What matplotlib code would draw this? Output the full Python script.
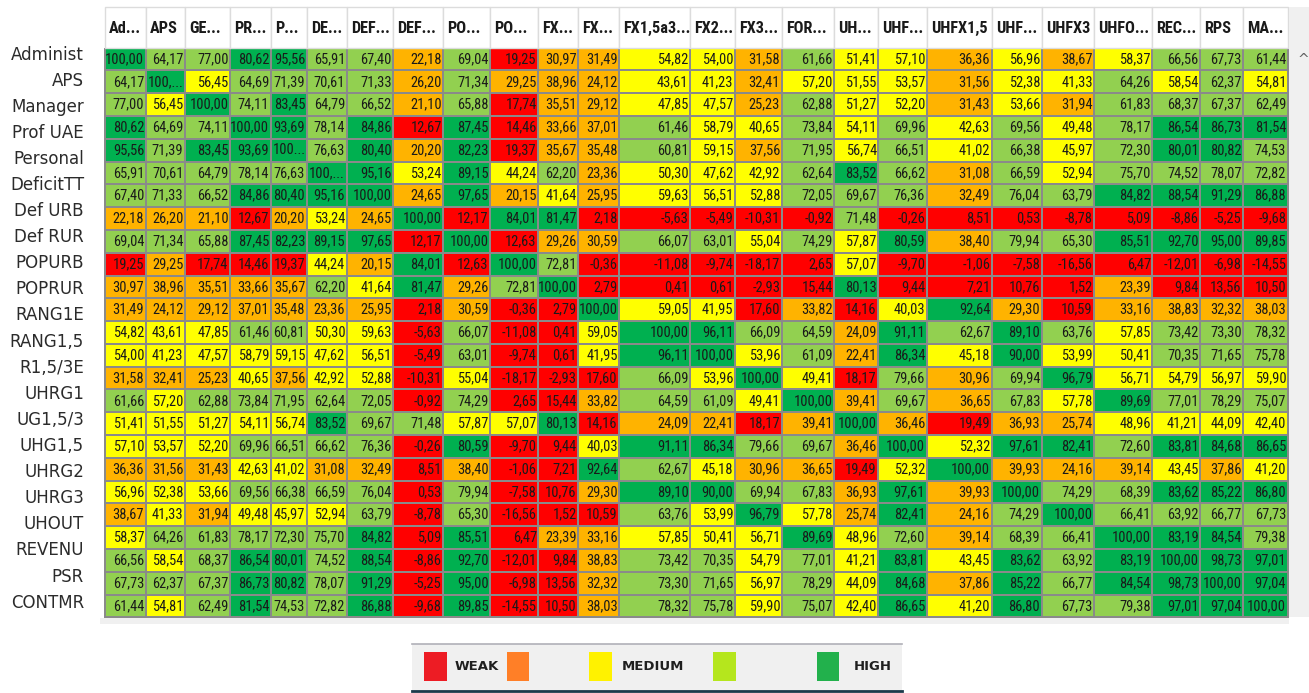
import numpy as np
import matplotlib.pyplot as plt
from matplotlib import font_manager as fm
from matplotlib.colors import ListedColormap, BoundaryNorm
from matplotlib.patches import Rectangle

colNames = ['Ad...', 'APS', 'GE...', 'PR...', 'P...', 'DE...', 'DEF...', 'DEF...', 'PO...', 'PO...',
            'FX...', 'FX...', 'FX1,5a3...', 'FX2...', 'FX3...', 'FOR...', 'UH...', 'UHF...', 'UHFX1,5',
            'UHF...', 'UHFX3', 'UHFO...', 'REC...', 'RPS', 'MA...']
rowNames = ['Administ', 'APS', 'Manager', 'Prof UAE', 'Personal', 'DeficitTT', 'Def URB', 'Def RUR',
            'POPURB', 'POPRUR', 'RANG1E', 'RANG1,5', 'R1,5/3E', 'UHRG1', 'UG1,5/3', 'UHG1,5', 'UHRG2',
            'UHRG3', 'UHOUT', 'REVENU', 'PSR', 'CONTMR']

# correlation table (%), one list per row
corr = [
 [100.00, 64.17, 77.00, 80.62, 95.56, 65.91, 67.40, 22.18, 69.04, 19.25, 30.97, 31.49, 54.82, 54.00, 31.58, 61.66, 51.41, 57.10, 36.36, 56.96, 38.67, 58.37, 66.56, 67.73, 61.44],
 [64.17, 100.00, 56.45, 64.69, 71.39, 70.61, 71.33, 26.20, 71.34, 29.25, 38.96, 24.12, 43.61, 41.23, 32.41, 57.20, 51.55, 53.57, 31.56, 52.38, 41.33, 64.26, 58.54, 62.37, 54.81],
 [77.00, 56.45, 100.00, 74.11, 83.45, 64.79, 66.52, 21.10, 65.88, 17.74, 35.51, 29.12, 47.85, 47.57, 25.23, 62.88, 51.27, 52.20, 31.43, 53.66, 31.94, 61.83, 68.37, 67.37, 62.49],
 [80.62, 64.69, 74.11, 100.00, 93.69, 78.14, 84.86, 12.67, 87.45, 14.46, 33.66, 37.01, 61.46, 58.79, 40.65, 73.84, 54.11, 69.96, 42.63, 69.56, 49.48, 78.17, 86.54, 86.73, 81.54],
 [95.56, 71.39, 83.45, 93.69, 100.00, 76.63, 80.40, 20.20, 82.23, 19.37, 35.67, 35.48, 60.81, 59.15, 37.56, 71.95, 56.74, 66.51, 41.02, 66.38, 45.97, 72.30, 80.01, 80.82, 74.53],
 [65.91, 70.61, 64.79, 78.14, 76.63, 100.00, 95.16, 53.24, 89.15, 44.24, 62.20, 23.36, 50.30, 47.62, 42.92, 62.64, 83.52, 66.62, 31.08, 66.59, 52.94, 75.70, 74.52, 78.07, 72.82],
 [67.40, 71.33, 66.52, 84.86, 80.40, 95.16, 100.00, 24.65, 97.65, 20.15, 41.64, 25.95, 59.63, 56.51, 52.88, 72.05, 69.67, 76.36, 32.49, 76.04, 63.79, 84.82, 88.54, 91.29, 86.88],
 [22.18, 26.20, 21.10, 12.67, 20.20, 53.24, 24.65, 100.00, 12.17, 84.01, 81.47, 2.18, -5.63, -5.49, -10.31, -0.92, 71.48, -0.26, 8.51, 0.53, -8.78, 5.09, -8.86, -5.25, -9.68],
 [69.04, 71.34, 65.88, 87.45, 82.23, 89.15, 97.65, 12.17, 100.00, 12.63, 29.26, 30.59, 66.07, 63.01, 55.04, 74.29, 57.87, 80.59, 38.40, 79.94, 65.30, 85.51, 92.70, 95.00, 89.85],
 [19.25, 29.25, 17.74, 14.46, 19.37, 44.24, 20.15, 84.01, 12.63, 100.00, 72.81, -0.36, -11.08, -9.74, -18.17, 2.65, 57.07, -9.70, -1.06, -7.58, -16.56, 6.47, -12.01, -6.98, -14.55],
 [30.97, 38.96, 35.51, 33.66, 35.67, 62.20, 41.64, 81.47, 29.26, 72.81, 100.00, 2.79, 0.41, 0.61, -2.93, 15.44, 80.13, 9.44, 7.21, 10.76, 1.52, 23.39, 9.84, 13.56, 10.50],
 [31.49, 24.12, 29.12, 37.01, 35.48, 23.36, 25.95, 2.18, 30.59, -0.36, 2.79, 100.00, 59.05, 41.95, 17.60, 33.82, 14.16, 40.03, 92.64, 29.30, 10.59, 33.16, 38.83, 32.32, 38.03],
 [54.82, 43.61, 47.85, 61.46, 60.81, 50.30, 59.63, -5.63, 66.07, -11.08, 0.41, 59.05, 100.00, 96.11, 66.09, 64.59, 24.09, 91.11, 62.67, 89.10, 63.76, 57.85, 73.42, 73.30, 78.32],
 [54.00, 41.23, 47.57, 58.79, 59.15, 47.62, 56.51, -5.49, 63.01, -9.74, 0.61, 41.95, 96.11, 100.00, 53.96, 61.09, 22.41, 86.34, 45.18, 90.00, 53.99, 50.41, 70.35, 71.65, 75.78],
 [31.58, 32.41, 25.23, 40.65, 37.56, 42.92, 52.88, -10.31, 55.04, -18.17, -2.93, 17.60, 66.09, 53.96, 100.00, 49.41, 18.17, 79.66, 30.96, 69.94, 96.79, 56.71, 54.79, 56.97, 59.90],
 [61.66, 57.20, 62.88, 73.84, 71.95, 62.64, 72.05, -0.92, 74.29, 2.65, 15.44, 33.82, 64.59, 61.09, 49.41, 100.00, 39.41, 69.67, 36.65, 67.83, 57.78, 89.69, 77.01, 78.29, 75.07],
 [51.41, 51.55, 51.27, 54.11, 56.74, 83.52, 69.67, 71.48, 57.87, 57.07, 80.13, 14.16, 24.09, 22.41, 18.17, 39.41, 100.00, 36.46, 19.49, 36.93, 25.74, 48.96, 41.21, 44.09, 42.40],
 [57.10, 53.57, 52.20, 69.96, 66.51, 66.62, 76.36, -0.26, 80.59, -9.70, 9.44, 40.03, 91.11, 86.34, 79.66, 69.67, 36.46, 100.00, 52.32, 97.61, 82.41, 72.60, 83.81, 84.68, 86.65],
 [36.36, 31.56, 31.43, 42.63, 41.02, 31.08, 32.49, 8.51, 38.40, -1.06, 7.21, 92.64, 62.67, 45.18, 30.96, 36.65, 19.49, 52.32, 100.00, 39.93, 24.16, 39.14, 43.45, 37.86, 41.20],
 [56.96, 52.38, 53.66, 69.56, 66.38, 66.59, 76.04, 0.53, 79.94, -7.58, 10.76, 29.30, 89.10, 90.00, 69.94, 67.83, 36.93, 97.61, 39.93, 100.00, 74.29, 68.39, 83.62, 85.22, 86.80],
 [38.67, 41.33, 31.94, 49.48, 45.97, 52.94, 63.79, -8.78, 65.30, -16.56, 1.52, 10.59, 63.76, 53.99, 96.79, 57.78, 25.74, 82.41, 24.16, 74.29, 100.00, 66.41, 63.92, 66.77, 67.73],
 [58.37, 64.26, 61.83, 78.17, 72.30, 75.70, 84.82, 5.09, 85.51, 6.47, 23.39, 33.16, 57.85, 50.41, 56.71, 89.69, 48.96, 72.60, 39.14, 68.39, 66.41, 100.00, 83.19, 84.54, 79.38],
 [66.56, 58.54, 68.37, 86.54, 80.01, 74.52, 88.54, -8.86, 92.70, -12.01, 9.84, 38.83, 73.42, 70.35, 54.79, 77.01, 41.21, 83.81, 43.45, 83.62, 63.92, 83.19, 100.00, 98.73, 97.01],
 [67.73, 62.37, 67.37, 86.73, 80.82, 78.07, 91.29, -5.25, 95.00, -6.98, 13.56, 32.32, 73.30, 71.65, 56.97, 78.29, 44.09, 84.68, 37.86, 85.22, 66.77, 84.54, 98.73, 100.00, 97.04],
 [61.44, 54.81, 62.49, 81.54, 74.53, 72.82, 86.88, -9.68, 89.85, -14.55, 10.50, 38.03, 78.32, 75.78, 59.90, 75.07, 42.40, 86.65, 41.20, 86.80, 67.73, 79.38, 97.01, 97.04, 100.00],
]
# cells too narrow for "100,00"
truncated = {(1, 1): '100,...', (4, 4): '100...', (5, 5): '100,...'}

classBounds = [-100, 20, 40, 60, 80, 101]
cellColors  = ['#FF0000', '#FFB300', '#FFFF00', '#92D050', '#00B050']
legendLabels = ['WEAK', '', 'MEDIUM', '', 'HIGH']
legendColors = ['#ED1C24', '#FF7F27', '#FFF200', '#B5E61D', '#22B14C']

# layout in pixels
colEdges = np.array([105, 145.7, 185, 230, 270.7, 306.7, 346.7, 393.3, 443.3, 490, 538.3, 578.3,
                     619.3, 690, 735, 781.7, 834.3, 878.3, 926.7, 991.7, 1041.7, 1094.3, 1152.3,
                     1200, 1243.3, 1287.7])
rowTop, rowBot = 47.7, 617.3
headTop = 7
labelY0, labelStep = 54.5, 26.1


def narrow_font(bold=False):
    # the table uses a narrow sans; take the first one that is installed
    wanted = ['Liberation Sans Narrow', 'Roboto Condensed', 'Noto Sans Condensed',
              'Open Sans Condensed', 'DejaVu Sans Condensed']
    weight = 700 if bold else 400
    fonts = fm.fontManager.ttflist
    for w in wanted:
        for f in fonts:
            if f.name == w and f.style == 'normal' and abs(f.weight - weight) < 150:
                return fm.FontProperties(fname=f.fname)
    for f in fonts:
        if f.stretch in ('condensed', 'semi-condensed', 'extra-condensed') and f.style == 'normal' \
                and abs(f.weight - weight) < 150 and 'Sans' in f.name:
            return fm.FontProperties(fname=f.fname)
    return fm.FontProperties(family='Liberation Sans', weight='bold' if bold else 'normal')


fig = plt.figure(figsize=(13.09, 6.93), dpi=100)
ax = fig.add_axes([0, 0, 1, 1])
ax.set_xlim(0, 1309)
ax.set_ylim(693, 0)
ax.axis('off')
renderer = fig.canvas.get_renderer()


def fit_size(prop, sample, width, maxSize):
    t = ax.text(0, 0, sample, fontproperties=prop, fontsize=10)
    w = t.get_window_extent(renderer).width
    t.remove()
    return min(maxSize, 10 * width / w)


numProp = narrow_font()
headProp = narrow_font(bold=True)
numSize = fit_size(numProp, '100,00', 38, 14)
headSize = fit_size(headProp, 'DEF...', 39, 13.5)

corr = np.array(corr)
rowEdges = np.linspace(rowTop, rowBot, corr.shape[0] + 1)
rowMid = (rowEdges[:-1] + rowEdges[1:]) / 2

cmap = ListedColormap(cellColors)
norm = BoundaryNorm(classBounds, cmap.N)
ax.pcolormesh(colEdges, rowEdges, corr, cmap=cmap, norm=norm,
              edgecolor='#8a8a8a', linewidth=1.1)

for i in range(corr.shape[0]):
    for j in range(corr.shape[1]):
        if (i, j) in truncated:
            ax.text(colEdges[j] + 2, rowMid[i], truncated[(i, j)], ha='left', va='center',
                    fontproperties=numProp, fontsize=numSize, color='#1a1a1a')
        else:
            s = '%.2f' % corr[i, j]
            ax.text(colEdges[j + 1] - 1.5, rowMid[i], s.replace('.', ','), ha='right', va='center',
                    fontproperties=numProp, fontsize=numSize, color='#1a1a1a')

# header
for j, name in enumerate(colNames):
    ax.add_patch(Rectangle((colEdges[j], headTop), colEdges[j + 1] - colEdges[j], rowTop - headTop,
                           facecolor='white', edgecolor='#dcdcdc', linewidth=1))
    ax.text(colEdges[j] + 4, (headTop + rowTop) / 2 + 1, name, ha='left', va='center',
            fontproperties=headProp, fontsize=headSize, color='#1a1a1a')

# scroll strip at right
ax.add_patch(Rectangle((1289, headTop), 20, rowBot - headTop, facecolor='#f0f0f0', edgecolor='none'))
ax.text(1303, 60, '^', ha='center', va='center', fontsize=10, color='#606060')
ax.add_patch(Rectangle((100, rowBot + 1), 1189, 6, facecolor='#f0f0f0', edgecolor='none'))

# row labels (as in the source, not aligned with the cells)
for i, name in enumerate(rowNames):
    ax.text(84, labelY0 + i * labelStep, name, ha='right', va='center',
            fontsize=12, family='DejaVu Sans', color='#2b2b2b')

# legend box
ax.add_patch(Rectangle((411.7, 644), 490, 47, facecolor='#f0f0f0', edgecolor='none'))
ax.plot([411.7, 901.7], [644, 644], color='#b0b0b8', linewidth=1.2)
ax.plot([411.7, 901.7], [691, 691], color='#1b3a4b', linewidth=2)
swatchX = [424, 506.7, 589, 713.3, 816.7]
textX = [454.3, 0, 621.7, 0, 853.3]
for k in range(len(legendColors)):
    ax.add_patch(Rectangle((swatchX[k], 651.7), 22.5, 29, facecolor=legendColors[k], edgecolor='none'))
    if legendLabels[k]:
        ax.text(textX[k], 667, legendLabels[k], ha='left', va='center', fontsize=9.5,
                fontweight='bold', family='DejaVu Sans', color='#1f1f1f')

plt.savefig('out.png', dpi=100)
